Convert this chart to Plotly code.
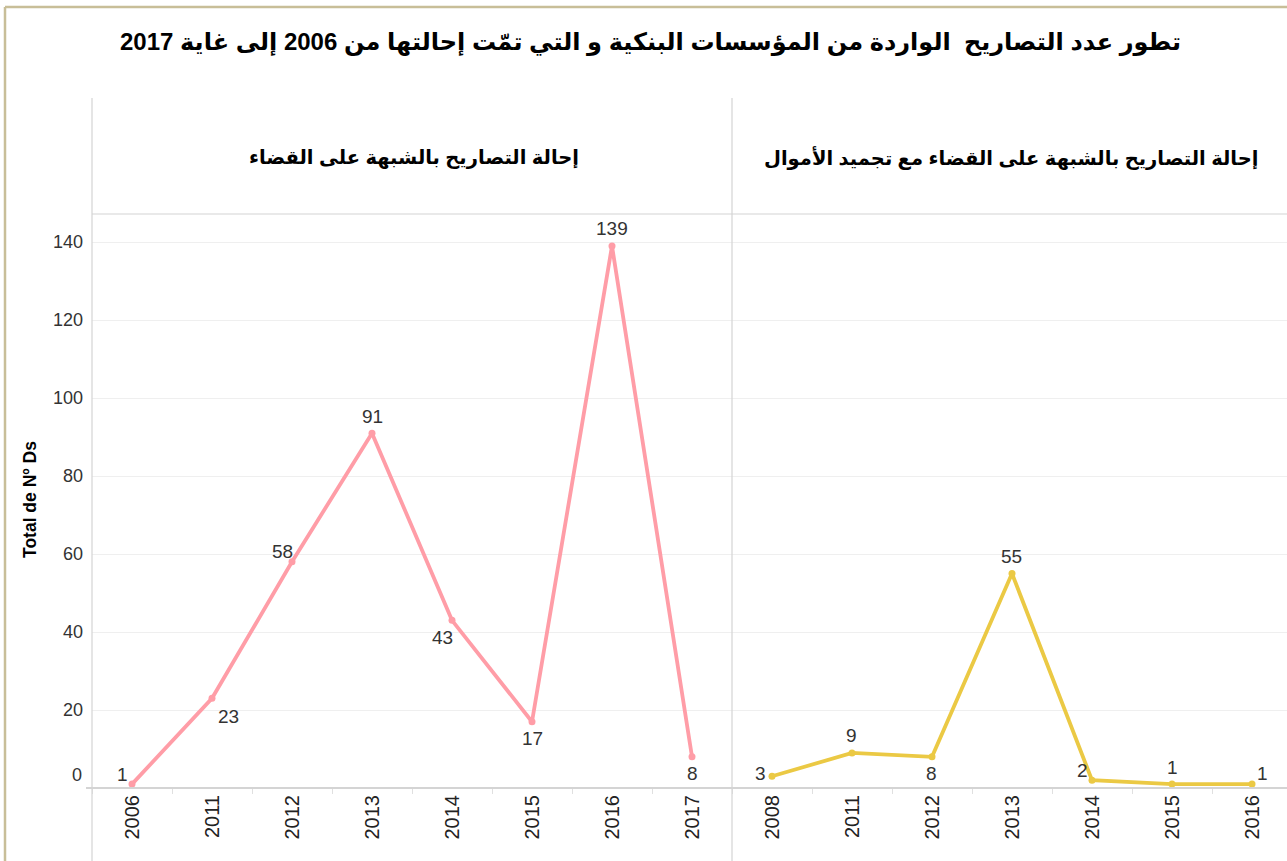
import plotly.graph_objects as go

# ---- data ----
title_text = "تطور عدد التصاريح  الواردة من المؤسسات البنكية و التي تمّت إحالتها من 2006 إلى غاية 2017"
panel_titles = ["إحالة التصاريح بالشبهة على القضاء",
                "إحالة التصاريح بالشبهة على القضاء مع تجميد الأموال"]
y_title = "Total de Nº Ds"

years_left = ["2006", "2011", "2012", "2013", "2014", "2015", "2016", "2017"]
values_left = [1, 23, 58, 91, 43, 17, 139, 8]
label_pos_left = ["tl", "br", "tl", "t", "bl", "b", "t", "b"]

years_right = ["2008", "2011", "2012", "2013", "2014", "2015", "2016"]
values_right = [3, 9, 8, 55, 2, 1, 1]
label_pos_right = ["l", "t", "b", "t", "tl", "t", "tr"]

y_ticks = [20, 40, 60, 80, 100, 120, 140]

# ---- styles ----
W, H = 1287, 861
PINK = "#ff9da7"
YELLOW = "#ebc944"
GRID = "#efefef"
RULE = "#d4d4d4"
FONT = "Arial, Liberation Sans, DejaVu Sans, sans-serif"

def px_x(p):
    return p / W

def px_y(p):
    return 1 - p / H

SHIFTS = {"t": (0, 17), "b": (0, -17), "l": (-11, 3), "r": (11, 3),
          "tl": (-10, 10), "tr": (10, 11), "bl": (-10, -17), "br": (16, -18)}

fig = go.Figure()
fig.add_trace(go.Scatter(x=years_left, y=values_left, mode="lines+markers",
                         line=dict(color=PINK, width=3.8),
                         marker=dict(color=PINK, size=7),
                         xaxis="x", yaxis="y", showlegend=False, hoverinfo="x+y"))
fig.add_trace(go.Scatter(x=years_right, y=values_right, mode="lines+markers",
                         line=dict(color=YELLOW, width=3.8),
                         marker=dict(color=YELLOW, size=7),
                         xaxis="x2", yaxis="y2", showlegend=False, hoverinfo="x+y"))

annotations = []
for xs, ys, poss, xr, yr in [(years_left, values_left, label_pos_left, "x", "y"),
                             (years_right, values_right, label_pos_right, "x2", "y2")]:
    for i, (yv, p) in enumerate(zip(ys, poss)):
        dx, dy = SHIFTS[p]
        # category index i on the category axis
        annotations.append(dict(x=i, y=yv, xref=xr, yref=yr, text=str(yv),
                                showarrow=False, xshift=dx, yshift=dy,
                                xanchor="center", yanchor="middle",
                                font=dict(family=FONT, size=19, color="#333333")))

# "0" tick label (drawn slightly raised as in the reference)
annotations.append(dict(x=px_x(84), y=0, xref="paper", yref="y", text="0",
                        showarrow=False, xanchor="right", yshift=13,
                        font=dict(family=FONT, size=18, color="#333333")))

# title and panel headers
annotations.append(dict(x=px_x(650), y=px_y(42), xref="paper", yref="paper",
                        text="<b>" + title_text + "</b>", showarrow=False,
                        xanchor="center", yanchor="middle",
                        font=dict(family=FONT, size=24, color="#000000")))
annotations.append(dict(x=px_x(414), y=px_y(157), xref="paper", yref="paper",
                        text="<b>" + panel_titles[0] + "</b>", showarrow=False,
                        xanchor="center", yanchor="middle",
                        font=dict(family=FONT, size=19.5, color="#000000")))
annotations.append(dict(x=px_x(1011), y=px_y(157), xref="paper", yref="paper",
                        text="<b>" + panel_titles[1] + "</b>", showarrow=False,
                        xanchor="center", yanchor="middle",
                        font=dict(family=FONT, size=19.5, color="#000000")))
annotations.append(dict(x=px_x(30), y=px_y(500), xref="paper", yref="paper",
                        text="<b>" + y_title + "</b>", showarrow=False, textangle=-90,
                        xanchor="center", yanchor="middle",
                        font=dict(family=FONT, size=17.5, color="#000000")))

shapes = [
    # outer frame (olive)
    dict(type="line", xref="paper", yref="paper", x0=px_x(5), x1=1, y0=px_y(7), y1=px_y(7),
         line=dict(color="#c8be98", width=2.5)),
    dict(type="line", xref="paper", yref="paper", x0=px_x(5), x1=px_x(5), y0=px_y(7), y1=0,
         line=dict(color="#c8be98", width=2.5)),
    # panel rules
    dict(type="line", xref="paper", yref="paper", x0=px_x(92), x1=px_x(92), y0=px_y(98), y1=0,
         line=dict(color=RULE, width=1.2)),
    dict(type="line", xref="paper", yref="paper", x0=px_x(732), x1=px_x(732), y0=px_y(98), y1=0,
         line=dict(color=RULE, width=1.2)),
    dict(type="line", xref="paper", yref="paper", x0=px_x(92), x1=1, y0=px_y(214), y1=px_y(214),
         line=dict(color=RULE, width=1.2)),
    # x baseline
    dict(type="line", xref="paper", yref="paper", x0=px_x(86), x1=1, y0=px_y(788), y1=px_y(788),
         line=dict(color=RULE, width=2)),
]

y_dom = [px_y(788), px_y(214)]
yaxis_common = dict(range=[0, 147.2], domain=y_dom, showgrid=True, gridcolor=GRID,
                    gridwidth=1, zeroline=False, showline=False, tickvals=y_ticks,
                    fixedrange=True)
xaxis_common = dict(type="category", showgrid=False, zeroline=False, showline=False,
                    ticks="outside", tickson="boundaries", ticklen=5, tickcolor="#e0e0e0",
                    tickangle=-90, tickfont=dict(family=FONT, size=20, color="#222222"),
                    ticklabelstandoff=2, fixedrange=True)

fig.update_layout(
    width=W, height=H, margin=dict(l=0, r=0, t=0, b=0),
    paper_bgcolor="white", plot_bgcolor="white",
    xaxis=dict(xaxis_common, domain=[px_x(92), px_x(732)], range=[-0.5, 7.5],
               categoryorder="array", categoryarray=years_left, anchor="y"),
    xaxis2=dict(xaxis_common, domain=[px_x(732), 1], range=[-0.5, 6.4375],
                categoryorder="array", categoryarray=years_right, anchor="y2"),
    yaxis=dict(yaxis_common, anchor="x", showticklabels=True,
               tickfont=dict(family=FONT, size=18, color="#333333"), ticklabelstandoff=8),
    yaxis2=dict(yaxis_common, anchor="x2", showticklabels=False),
    annotations=annotations, shapes=shapes,
)

fig.write_html("out.html",
               config={"displayModeBar": False},
               post_script="document.body.style.margin='0';"
                           "document.documentElement.style.overflow='hidden';")
